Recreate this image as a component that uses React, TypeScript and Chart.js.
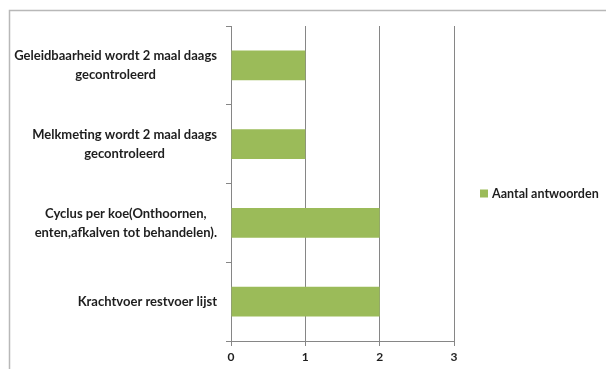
import { useEffect, useRef } from "react";
import { Chart, registerables } from "chart.js";

Chart.register(...registerables);

const categories: string[][] = [
  ["Geleidbaarheid wordt 2 maal daags", "gecontroleerd"],
  ["Melkmeting wordt 2 maal daags", "gecontroleerd"],
  ["Cyclus per koe(Onthoornen,", "enten,afkalven tot behandelen)."],
  ["Krachtvoer restvoer lijst"],
];
const seriesLabel = "Aantal antwoorden";
const values = [1, 1, 2, 2];
const xMin = 0;
const xMax = 3;

const FONT = "Lato, 'Open Sans', sans-serif";
const BAR = "#9BBB59";
const AXIS = "#868686";
const TEXT = "#1e1e1e";

export default function App() {
  const ref = useRef<HTMLCanvasElement | null>(null);

  useEffect(() => {
    document.body.style.margin = "0";
    const canvas = ref.current;
    if (!canvas) return;

    const framePlugin = {
      id: "frame",
      beforeDraw(chart: any) {
        const ctx = chart.ctx;
        ctx.save();
        ctx.fillStyle = "#ffffff";
        ctx.fillRect(0, 0, chart.width, chart.height);
        ctx.strokeStyle = "#b8b8b8";
        ctx.lineWidth = 1.5;
        ctx.beginPath();
        ctx.moveTo(chart.width, 10.5);
        ctx.lineTo(9.5, 10.5);
        ctx.lineTo(9.5, chart.height);
        ctx.stroke();
        ctx.restore();
      },
    };

    const labelPlugin = {
      id: "catLabels",
      afterDraw(chart: any) {
        const ctx = chart.ctx;
        const y = chart.scales.y;
        const labels = chart.data.labels as string[][];
        ctx.save();
        ctx.font = `bold 13px ${FONT}`;
        ctx.fillStyle = TEXT;
        ctx.textAlign = "center";
        ctx.textBaseline = "middle";
        const right = chart.chartArea.left - 14;
        const lh = 19;
        labels.forEach((lines, i) => {
          const widest = Math.max(...lines.map((l) => ctx.measureText(l).width));
          const cx = right - widest / 2;
          const yc = y.getPixelForValue(i);
          lines.forEach((l, j) => {
            ctx.fillText(l, cx, yc + (j - (lines.length - 1) / 2) * lh);
          });
        });
        ctx.restore();
      },
    };

    const legendPlugin = {
      id: "sideLegend",
      afterDraw(chart: any) {
        const ctx = chart.ctx;
        const ds = chart.data.datasets[0];
        const area = chart.chartArea;
        const x = area.right + 26;
        const yc = (area.top + area.bottom) / 2 + 10;
        ctx.save();
        ctx.fillStyle = ds.backgroundColor;
        ctx.fillRect(x, yc - 4, 8, 8);
        ctx.font = `bold 12.5px ${FONT}`;
        ctx.fillStyle = TEXT;
        ctx.textAlign = "left";
        ctx.textBaseline = "middle";
        ctx.fillText(ds.label, x + 12, yc);
        ctx.restore();
      },
    };

    const chart = new Chart(canvas, {
      type: "bar",
      data: {
        labels: categories,
        datasets: [
          {
            label: seriesLabel,
            data: values,
            backgroundColor: BAR,
            borderWidth: 0,
            barPercentage: 0.38,
            categoryPercentage: 1,
          },
        ],
      },
      options: {
        indexAxis: "y",
        responsive: false,
        animation: false,
        layout: { padding: { left: 9, top: 26, right: 152, bottom: 0 } },
        plugins: {
          legend: { display: false },
          tooltip: { enabled: false },
        },
        scales: {
          x: {
            type: "linear",
            min: xMin,
            max: xMax,
            ticks: {
              stepSize: 1,
              color: TEXT,
              font: { family: FONT, size: 12, weight: "bold" },
              padding: 4,
            },
            grid: { color: AXIS, tickLength: 5, drawTicks: true },
            border: { color: AXIS },
            afterFit: (s: any) => {
              s.height = 28;
            },
          },
          y: {
            ticks: { display: false },
            grid: {
              drawOnChartArea: false,
              drawTicks: true,
              tickLength: 5,
              offset: true,
              color: AXIS,
            },
            border: { color: AXIS },
            afterFit: (s: any) => {
              s.width = 222;
            },
          },
        },
      },
      plugins: [framePlugin, labelPlugin, legendPlugin],
    } as any);

    return () => chart.destroy();
  }, []);

  return (
    <canvas
      ref={ref}
      width={606}
      height={369}
      style={{ display: "block", width: 606, height: 369 }}
    />
  );
}
